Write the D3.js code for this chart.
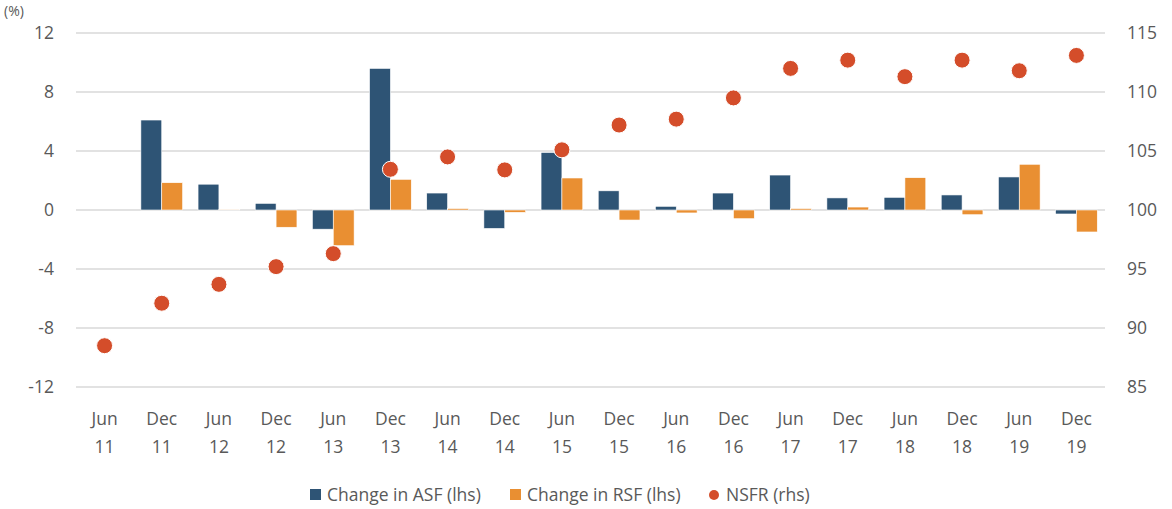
<!DOCTYPE html>
<html>
<head>
<meta charset="utf-8">
<script src="https://cdn.jsdelivr.net/npm/d3@7"></script>
<style>
  body { margin: 0; background: #fff; }
  text { font-family: "Open Sans", "Noto Sans", sans-serif; fill: #595959; }
</style>
</head>
<body>
<div id="chart"></div>
<script>
// data
var periods = ["Jun 11","Dec 11","Jun 12","Dec 12","Jun 13","Dec 13","Jun 14","Dec 14","Jun 15",
               "Dec 15","Jun 16","Dec 16","Jun 17","Dec 17","Jun 18","Dec 18","Jun 19","Dec 19"];
var asf  = [0, 6.1, 1.75, 0.45, -1.3, 9.6, 1.15, -1.25, 3.9, 1.3, 0.25, 1.15, 2.37, 0.82, 0.86, 1.02, 2.24, -0.27];
var rsf  = [0, 1.85, 0.05, -1.17, -2.42, 2.08, 0.1, -0.16, 2.17, -0.68, -0.2, -0.59, 0.1, 0.2, 2.19, -0.32, 3.1, -1.49];
var nsfr = [88.5, 92.1, 93.7, 95.2, 96.3, 103.45, 104.5, 103.4, 105.1, 107.2, 107.7, 109.5, 112.0, 112.7, 111.3, 112.7, 111.8, 113.1];
var leftTicks = [-12, -8, -4, 0, 4, 8, 12];
var rightTicks = [85, 90, 95, 100, 105, 110, 115];
var seriesNames = ["Change in ASF (lhs)", "Change in RSF (lhs)", "NSFR (rhs)"];
var colors = ["#2e5475", "#e98f32", "#d44d2a"];

var W = 1172, H = 509;
var margin = {left: 76, right: 67, top: 33, bottom: 122};
var width = W - margin.left - margin.right,
    height = H - margin.top - margin.bottom;

var svg = d3.select("#chart")
  .append("svg")
    .attr("width", W)
    .attr("height", H);

var g = svg.append("g")
    .attr("transform", "translate(" + margin.left + "," + margin.top + ")");

// scales
var x = d3.scaleBand().domain(periods).range([0, width]);
var xSub = d3.scaleBand().domain(["asf", "rsf"])
  .range([0, x.bandwidth()]).paddingOuter(0.37);
var yL = d3.scaleLinear().domain([-12, 12]).range([height, 0]);
var yR = d3.scaleLinear().domain([85, 115]).range([height, 0]);

// gridlines
g.append("g")
  .selectAll("line")
  .data(leftTicks)
  .enter().append("line")
    .attr("x1", 0).attr("x2", width)
    .attr("y1", function(d) { return yL(d); })
    .attr("y2", function(d) { return yL(d); })
    .attr("stroke", "#d9d9d9")
    .attr("stroke-width", 1.5);

// left axis (plain hyphen for negatives, like the original)
var axL = g.append("g")
  .call(d3.axisLeft(yL).tickValues(leftTicks).tickSize(0).tickPadding(22)
    .tickFormat(function(d) { return String(d); }));
axL.select(".domain").remove();
axL.selectAll("text").style("font-size", "17.5px").attr("fill", "#595959");

// right axis
var axR = g.append("g")
  .attr("transform", "translate(" + width + ",0)")
  .call(d3.axisRight(yR).tickValues(rightTicks).tickSize(0).tickPadding(22));
axR.select(".domain").remove();
axR.selectAll("text").style("font-size", "17.5px").attr("fill", "#595959");

// x labels, two lines
var xl = g.append("g")
  .selectAll("text")
  .data(periods)
  .enter().append("text")
    .attr("text-anchor", "middle")
    .attr("x", function(d) { return x(d) + x.bandwidth() / 2; })
    .attr("y", height + 38)
    .style("font-size", "17.5px");
xl.append("tspan").text(function(d) { return d.split(" ")[0]; });
xl.append("tspan")
  .attr("x", function(d) { return x(d) + x.bandwidth() / 2; })
  .attr("dy", 28)
  .text(function(d) { return d.split(" ")[1]; });

// bars
var bars = [];
periods.forEach(function(p, i) {
  bars.push({p: p, k: "asf", v: asf[i], c: colors[0]});
  bars.push({p: p, k: "rsf", v: rsf[i], c: colors[1]});
});
g.append("g")
  .selectAll("rect")
  .data(bars)
  .enter().append("rect")
    .attr("x", function(d) { return x(d.p) + xSub(d.k); })
    .attr("width", xSub.bandwidth())
    .attr("y", function(d) { return yL(Math.max(0, d.v)); })
    .attr("height", function(d) { return Math.abs(yL(d.v) - yL(0)); })
    .attr("fill", function(d) { return d.c; })
    .attr("stroke", "#fff")
    .attr("stroke-width", 0.6);

// dots
g.append("g")
  .selectAll("circle")
  .data(nsfr)
  .enter().append("circle")
    .attr("cx", function(d, i) { return x(periods[i]) + x.bandwidth() / 2; })
    .attr("cy", function(d) { return yR(d); })
    .attr("r", 8)
    .attr("fill", colors[2])
    .attr("stroke", "#fff")
    .attr("stroke-width", 1);

// unit label at the top left
svg.append("text")
  .attr("x", 4).attr("y", 16)
  .style("font-size", "14px")
  .text("(%)");

// legend
var legX = [310, 510, 709];
var leg = svg.append("g");
seriesNames.forEach(function(name, i) {
  var lg = leg.append("g").attr("transform", "translate(" + legX[i] + ",495)");
  if (i < 2) {
    lg.append("rect").attr("x", 0).attr("y", -6).attr("width", 11).attr("height", 11).attr("fill", colors[i]);
  } else {
    lg.append("circle").attr("cx", 5).attr("cy", 0).attr("r", 5).attr("fill", colors[i]);
  }
  lg.append("text").attr("x", 17).attr("y", 6).style("font-size", "17.5px").text(name);
});
</script>
</body>
</html>
